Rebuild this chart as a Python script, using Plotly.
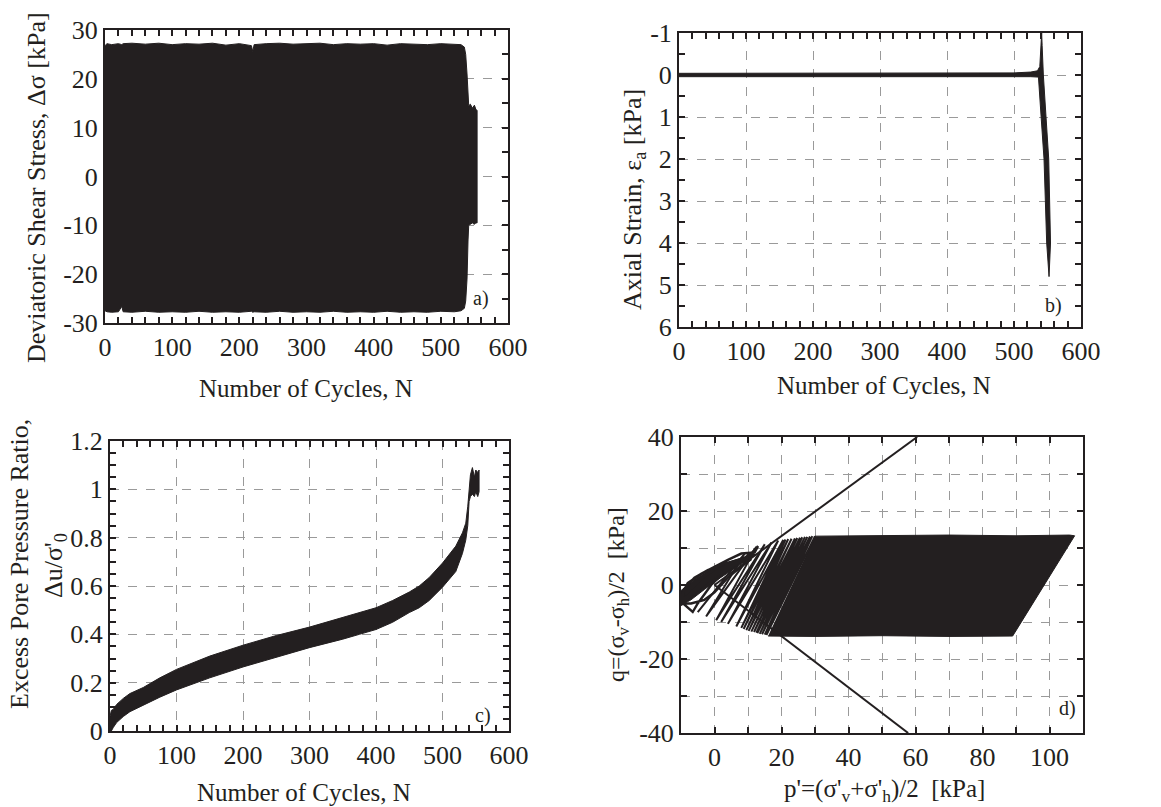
import plotly.graph_objects as go

# ---------------- data ----------------
# a) deviatoric shear stress envelope vs number of cycles
a_N = [0, 3, 10, 20, 25, 27, 40, 60, 80, 100, 120, 140, 160, 180, 200, 218, 220, 222, 240, 260,
       280, 300, 320, 340, 360, 380, 400, 420, 440, 460, 480, 500, 520, 530, 535, 537, 539, 540.5,
       541.5, 544, 547, 550, 552, 554]
a_upper = [26.8, 27.2, 27.0, 27.2, 27.0, 27.2, 27.3, 27.1, 27.3, 27.0, 27.2, 27.1, 27.3, 26.9, 27.2,
           26.8, 25.6, 27.0, 27.2, 27.3, 27.1, 27.2, 27.3, 27.0, 27.2, 27.1, 27.2, 26.9, 27.2, 27.1,
           27.0, 27.2, 27.1, 27.0, 26.5, 25.0, 21.0, 16.5, 14.5, 14.8, 14.0, 14.6, 13.8, 13.5]
a_lower = [-27.5, -27.7, -27.8, -27.7, -26.6, -27.7, -27.8, -27.6, -27.8, -27.7, -27.8, -27.6, -27.8,
           -27.7, -27.8, -27.6, -27.8, -27.7, -27.8, -27.6, -27.8, -27.7, -27.8, -27.6, -27.8, -27.7,
           -27.8, -27.6, -27.8, -27.7, -27.8, -27.6, -27.7, -27.5, -27.0, -25.5, -21.0, -13.0, -10.0,
           -9.8, -9.5, -9.8, -9.5, -9.5]

# b) axial strain band outline (N, strain)
b_N = [0, 300, 500, 525, 535, 538.5, 540.5, 541.3, 542, 543, 543.8, 547.8, 551.8, 554.5, 553.2,
       552.3, 548.8, 544.8, 540.5, 536.5, 525, 500, 300, 0]
b_eps = [-0.04, -0.04, -0.05, -0.07, -0.1, -0.2, -0.7, -1.0, -0.7, -0.2, 0.0, 1.0, 2.0, 4.0, 4.8,
         4.8, 4.0, 2.0, 1.0, 0.05, 0.04, 0.04, 0.04, 0.04]

# c) excess pore pressure ratio envelope
c_N = [0, 2, 5, 10, 20, 30, 50, 75, 100, 150, 200, 250, 300, 350, 375, 400, 425, 450, 465, 480,
       500, 520, 530, 535, 538, 540, 542, 545, 548, 550, 553, 555]
c_upper = [0.06, 0.085, 0.09, 0.11, 0.135, 0.155, 0.18, 0.22, 0.255, 0.31, 0.355, 0.395, 0.43, 0.47,
           0.49, 0.51, 0.54, 0.575, 0.60, 0.635, 0.695, 0.765, 0.82, 0.86, 0.93, 1.02, 1.06, 1.09,
           1.05, 1.08, 1.07, 1.08]
c_lower = [0.0, 0.0, 0.015, 0.035, 0.06, 0.08, 0.105, 0.14, 0.17, 0.22, 0.265, 0.305, 0.345, 0.38,
           0.40, 0.42, 0.45, 0.49, 0.51, 0.54, 0.595, 0.66, 0.735, 0.79, 0.85, 0.95, 0.97, 0.98, 0.97,
           0.99, 0.97, 0.99]

# d) stress path: dense band outline, individual loops, tangle near origin, failure lines
d_band_p = [16, 30, 50, 70, 89, 107.5, 106, 90, 70, 50, 30]
d_band_q = [-13.8, -13.9, -13.7, -13.9, -13.8, 13.3, 13.5, 13.3, 13.5, 13.3, 13.2]
d_zig_p = [30, 15.5, 29.2, 15, 28.5, 14.2, 27.7, 13.5, 27, 12.8, 26.2, 12.5, 25.5, 11.8, 24.7, 11,
           24, 10.2, 23, 9.5, 22, 8.7, 21.2, 8, 20.5, 6.5, 19, 4, 17, 2, 15, 0.5, 12.5, -2.5, 9, -5]
d_zig_q = [13.2, -13.5, 13.2, -13.4, 13.1, -13.3, 13.0, -13.2, 13.0, -13.0, 12.9, -12.9, 12.8,
           -12.7, 12.7, -12.6, 12.6, -12.4, 12.5, -12.2, 12.4, -11.9, 12.3, -11.6, 12.2, -11.2,
           12.0, -10.5, 11.5, -10.0, 11.0, -9.5, 10.3, -8.5, 8.5, -7.3]
d_core_p = [-10, -10, -6, -2, 3, 8, 10.5, 6, 1, -3, -7, -10]
d_core_q = [-5.5, -1.5, 1.5, 3.8, 5.8, 7.3, 7.2, 4.5, 1.5, -1.2, -4, -5.5]
d_tan_p = [-10, -7, -3, 1, 5, 9, 12, 10.5, 6, 2, -2, -6, -9, -10, -8, -4, 0, 4, 8, 12, 13, 11.5, 7,
           3, -1, -5, -8, -10, -6.5, -5, -1, 3, 8, 11, 8, 4, 0, -3, -7, -10, -9, -6, -2, 2, 6, 10,
           7, 3, -1, -5, -9, -10]
d_tan_q = [-5.5, -2, 1.5, 4, 6, 7.5, 8.5, 7.2, 5.5, 3.5, 1, -2, -4.5, -3, 0.5, 3, 5, 6.8, 8.5, 8.8,
           10.5, 9, 6, 4.5, 2.5, -0.5, -3.5, -4.5, -7.3, -5, 0, 3.5, 6.5, 7, 5, 2, -2, -4, -5, -5,
           -1, 2, 4, 5.5, 6.5, 7.5, 6.5, 4.5, 2, -1, -3.5, -4]
d_fail_up_p = [0, 60.5]
d_fail_up_q = [0, 40]
d_fail_lo_p = [0, 57.8]
d_fail_lo_q = [0, -40]

# tick labels
a_xticks = [0, 100, 200, 300, 400, 500, 600]
a_yticks = [-30, -20, -10, 0, 10, 20, 30]
a_ylabels = ["-30", "-20", "-10", "0", "10", "20", "30"]
b_yticks = [-1, 0, 1, 2, 3, 4, 5, 6]
b_ylabels = ["-1", "0", "1", "2", "3", "4", "5", "6"]
c_yticks = [0, 0.2, 0.4, 0.6, 0.8, 1.0, 1.2]
c_ylabels = ["0", "0.2", "0.4", "0.6", "0.8", "1", "1.2"]
d_xticks = [0, 20, 40, 60, 80, 100]
d_yticks = [-40, -20, 0, 20, 40]
d_ylabels = ["-40", "-20", "0", "20", "40"]

# ---------------- figure ----------------
W, H = 1161, 807
INK = "#231f20"
FONT = "Liberation Serif"


def fx(px):
    return px / W


def fy(py):
    return 1 - py / H


fig = go.Figure()

# a)
fig.add_trace(go.Scatter(x=a_N + a_N[::-1], y=a_upper + a_lower[::-1], fill="toself",
                         fillcolor=INK, line=dict(color=INK, width=1), mode="lines",
                         xaxis="x", yaxis="y"))
# b)
fig.add_trace(go.Scatter(x=b_N, y=b_eps, fill="toself", fillcolor=INK,
                         line=dict(color=INK, width=1), mode="lines", xaxis="x2", yaxis="y2"))
# c)
fig.add_trace(go.Scatter(x=c_N + c_N[::-1], y=c_upper + c_lower[::-1], fill="toself",
                         fillcolor=INK, line=dict(color=INK, width=1), mode="lines",
                         xaxis="x3", yaxis="y3"))
# d)
fig.add_trace(go.Scatter(x=d_band_p, y=d_band_q, fill="toself", fillcolor=INK,
                         line=dict(color=INK, width=1), mode="lines", xaxis="x4", yaxis="y4"))
fig.add_trace(go.Scatter(x=d_zig_p, y=d_zig_q, mode="lines", line=dict(color=INK, width=2),
                         xaxis="x4", yaxis="y4"))
fig.add_trace(go.Scatter(x=d_core_p, y=d_core_q, fill="toself", fillcolor=INK,
                         line=dict(color=INK, width=1), mode="lines", xaxis="x4", yaxis="y4"))
fig.add_trace(go.Scatter(x=d_tan_p, y=d_tan_q, mode="lines", line=dict(color=INK, width=2.4),
                         xaxis="x4", yaxis="y4"))
fig.add_trace(go.Scatter(x=d_fail_up_p, y=d_fail_up_q, mode="lines", line=dict(color=INK, width=2),
                         xaxis="x4", yaxis="y4"))
fig.add_trace(go.Scatter(x=d_fail_lo_p, y=d_fail_lo_q, mode="lines", line=dict(color=INK, width=2),
                         xaxis="x4", yaxis="y4"))


def axis(domain, rng, tickvals, ticktext, minor_dtick, anchor, grid=True, minor_grid=False):
    return dict(
        domain=domain, range=rng, anchor=anchor, automargin=False,
        tickmode="array", tickvals=tickvals, ticktext=ticktext,
        ticks="inside", ticklen=6, tickwidth=1.5, tickcolor=INK,
        showline=True, linewidth=2, linecolor=INK, mirror="allticks",
        showgrid=grid, gridcolor="#9a9a9a", griddash="dash", gridwidth=1,
        zeroline=False,
        tickfont=dict(family=FONT, size=26, color=INK),
        minor=dict(tickmode="linear", tick0=0, dtick=minor_dtick, ticks="inside", ticklen=6,
                   tickwidth=1.5, tickcolor=INK, showgrid=minor_grid, gridcolor="#9a9a9a",
                   griddash="dash", gridwidth=1),
    )


fig.update_layout(
    template="none",
    font=dict(family=FONT, size=24, color=INK),
    width=W, height=H, margin=dict(l=0, r=0, t=0, b=0, pad=0),
    paper_bgcolor="white", plot_bgcolor="white", showlegend=False,
    xaxis=axis([fx(105), fx(508)], [0, 600], a_xticks, [str(v) for v in a_xticks], 20, "y",
               grid=False),
    yaxis=axis([fy(323), fy(30)], [-30, 30], a_yticks, a_ylabels, 5, "x"),
    xaxis2=axis([fx(679), fx(1081)], [0, 600], a_xticks, [str(v) for v in a_xticks], 20, "y2"),
    yaxis2=axis([fy(327), fy(33)], [6, -1], b_yticks, b_ylabels, 0.5, "x2"),
    xaxis3=axis([fx(110), fx(509)], [0, 600], a_xticks, [str(v) for v in a_xticks], 20, "y3"),
    yaxis3=axis([fy(731), fy(441)], [0, 1.2], c_yticks, c_ylabels, 0.05, "x3"),
    xaxis4=axis([fx(681), fx(1083)], [-10, 110], d_xticks, [str(v) for v in d_xticks], 10, "y4",
                minor_grid=True),
    yaxis4=axis([fy(733), fy(437)], [-40, 40], d_yticks, d_ylabels, 10, "x4", minor_grid=True),
)

ann = [
    # a)
    dict(text="Deviatoric Shear Stress, Δσ [kPa]", x=fx(37), y=fy(188), textangle=-90, size=26),
    dict(text="Number of Cycles, N", x=fx(306), y=fy(389), size=25),
    dict(text="a)", x=fx(481), y=fy(298), size=20),
    # b)
    dict(text="Axial Strain, ε<sub>a</sub> [kPa]", x=fx(634), y=fy(200), textangle=-90, size=26),
    dict(text="Number of Cycles, N", x=fx(884), y=fy(385), size=25),
    dict(text="b)", x=fx(1053), y=fy(305), size=20),
    # c)
    dict(text="Excess Pore Pressure Ratio,", x=fx(19), y=fy(564), textangle=-90, size=26),
    dict(text="Δu/σ'<sub>0</sub>", x=fx(55), y=fy(566), textangle=-90, size=26),
    dict(text="Number of Cycles, N", x=fx(304), y=fy(792), size=25),
    dict(text="c)", x=fx(483), y=fy(715), size=20),
    # d)
    dict(text="q=(σ<sub>v</sub>-σ<sub>h</sub>)/2  [kPa]", x=fx(618), y=fy(595), textangle=-90,
         size=24),
    dict(text="p'=(σ'<sub>v</sub>+σ'<sub>h</sub>)/2  [kPa]", x=fx(884), y=fy(790), size=25),
    dict(text="d)", x=fx(1067), y=fy(708), size=20),
]
for a in ann:
    size = a.pop("size", 24)
    fig.add_annotation(xref="paper", yref="paper", showarrow=False, xanchor="center",
                       yanchor="middle", font=dict(family=FONT, size=size, color=INK), **a)

fig.write_html("out.html", config={"displayModeBar": False},
               post_script="document.body.style.margin='0';document.body.style.overflow='hidden';")
